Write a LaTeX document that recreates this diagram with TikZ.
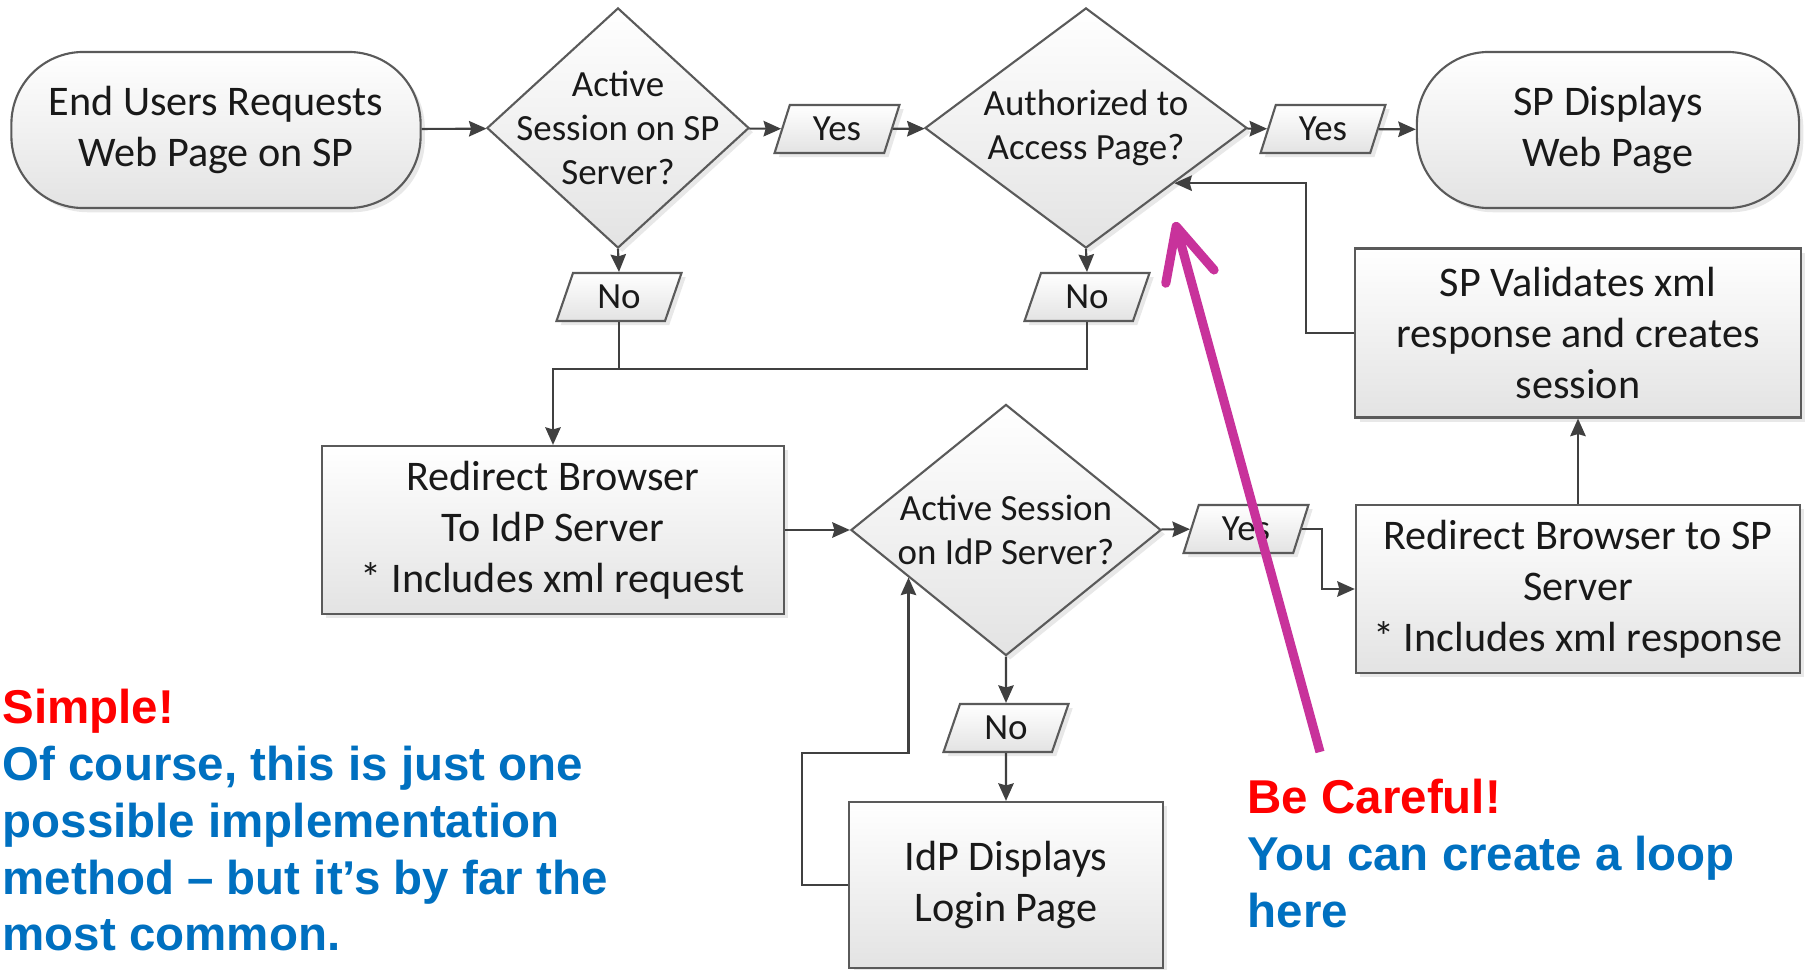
\documentclass[tikz,border=0pt]{standalone}
\usepackage{fontspec}
\setmainfont{Carlito}
\newfontfamily\notefont{Liberation Sans}
\usetikzlibrary{positioning,shapes.geometric,arrows.meta,shadows}

\definecolor{edgegray}{HTML}{5A5A5A}
\definecolor{linegray}{HTML}{404040}
\definecolor{noteblue}{HTML}{0070C0}
\definecolor{notered}{HTML}{FF0000}
\definecolor{warnpink}{HTML}{C8329B}

\begin{document}
\begin{tikzpicture}[
    x=0.01cm, y=-0.01cm,
    shapebase/.style={
        draw=edgegray,
        line width=0.6pt,
        top color=white,
        bottom color=black!11,
        drop shadow={opacity=0.18, shadow xshift=1.2pt, shadow yshift=-1.2pt},
        text=black!90,
        align=center
    },
    term/.style={shapebase, rectangle, rounded corners=0.72cm,
        minimum height=1.56cm, font=\fontsize{12}{14.5}\selectfont},
    proc/.style={shapebase, rectangle, font=\fontsize{12}{14.5}\selectfont},
    decision/.style={shapebase, diamond, inner sep=0pt},
    dectext/.style={font=\fontsize{10.5}{12.6}\selectfont, align=center, text=black!90},
    answer/.style={shapebase, trapezium, trapezium left angle=72,
        trapezium right angle=108, trapezium stretches=true,
        minimum width=1.25cm, minimum height=0.48cm, inner sep=0pt,
        font=\fontsize{10.5}{12.6}\selectfont},
    arrow/.style={-{Stealth[length=5pt, width=4.4pt, inset=0.6pt]}, draw=linegray, line width=0.6pt},
    line/.style={draw=linegray, line width=0.6pt},
    note/.style={anchor=north west, inner sep=0pt, align=left, text=noteblue,
        font=\notefont\bfseries\fontsize{13.5}{16.2}\selectfont},
    warn/.style={-{Straight Barb[round, length=5.2mm, width=5mm]}, draw=warnpink,
        line width=2.6pt}
]
\useasboundingbox (0,0) rectangle (1808,970);

% ============================================================
% SP SIDE: request, session check, authorization
% ============================================================
\node[term, minimum width=4.09cm] (request) at (216,130) {End Users Requests\\Web Page on SP};
\node[decision, minimum width=2.62cm, minimum height=2.40cm,
      label={[dectext]center:Active\\Session on SP\\Server?}] (spSession) at (618,128) {};
\node[answer] (yesSP) at (837,129) {Yes};
\node[decision, minimum width=3.22cm, minimum height=2.40cm,
      label={[dectext]center:Authorized to\\Access Page?}] (authorized) at (1086,128) {};
\node[answer] (yesAuth) at (1323,129) {Yes};
\node[term, minimum width=3.82cm] (display) at (1608,130) {SP Displays\\Web Page};

\node[answer] (noSP) at (619,297) {No};
\node[answer] (noAuth) at (1087,297) {No};

\draw[arrow] (request) -- (spSession);
\draw[arrow] (spSession) -- (yesSP);
\draw[arrow] (yesSP) -- (authorized);
\draw[arrow] (authorized) -- (yesAuth);
\draw[arrow] (yesAuth) -- (display);
\draw[arrow] (spSession.south) -- (noSP.north);
\draw[arrow] (authorized.south) -- (noAuth.north);

% ============================================================
% IdP SIDE: redirect, session check, login
% ============================================================
\node[proc, minimum width=4.62cm, minimum height=1.68cm] (toIdP) at (553,530)
    {Redirect Browser\\To IdP Server\\* Includes xml request};
\node[decision, minimum width=3.10cm, minimum height=2.51cm,
      label={[dectext]center:Active Session\\on IdP Server?}] (idpSession) at (1006,530) {};
\node[answer] (yesIdP) at (1246,529) {Yes};
\node[answer] (noIdP) at (1006,728) {No};
\node[proc, minimum width=3.13cm, minimum height=1.66cm] (login) at (1006,885)
    {IdP Displays\\Login Page};

\coordinate (merge) at (553,369);
\coordinate (loginLoop) at (802,753);

\draw[line] (noSP.south) -- (noSP.south |- merge);
\draw[arrow] (noAuth.south) |- (merge) -- (toIdP.north);
\draw[arrow] (toIdP) -- (idpSession);
\draw[arrow] (idpSession) -- (yesIdP);
\draw[arrow] (idpSession.south) -- (noIdP.north);
\draw[arrow] (noIdP.south) -- (login.north);
\draw[arrow] (login.west) -| (loginLoop) -| (idpSession.206);

% ============================================================
% BACK TO SP: response, validation
% ============================================================
\node[proc, minimum width=4.44cm, minimum height=1.68cm] (toSP) at (1578,589)
    {Redirect Browser to SP\\Server\\* Includes xml response};
\node[proc, minimum width=4.45cm, minimum height=1.69cm] (validate) at (1578,333)
    {SP Validates xml\\response and creates\\session};

\draw[arrow] (yesIdP.east) -- ++(20,0) |- (toSP.west);
\draw[arrow] (toSP) -- (validate);
\draw[arrow] (validate.west) -- ++(-48,0) |- (authorized.328);

% ============================================================
% NOTES
% ============================================================
\node[note] (simple) at (2,688)
    {\textcolor{notered}{Simple!}\\Of course, this is just one\\possible implementation\\method – but it’s by far the\\most common.};
\node[note] (careful) at (1247,778)
    {\textcolor{notered}{Be Careful!}\\You can create a loop\\here};

\coordinate (warnTail) at (1320,752);
\coordinate (warnTip) at (1175,222);
\draw[warn] (warnTail) -- (warnTip);

\end{tikzpicture}
\end{document}
